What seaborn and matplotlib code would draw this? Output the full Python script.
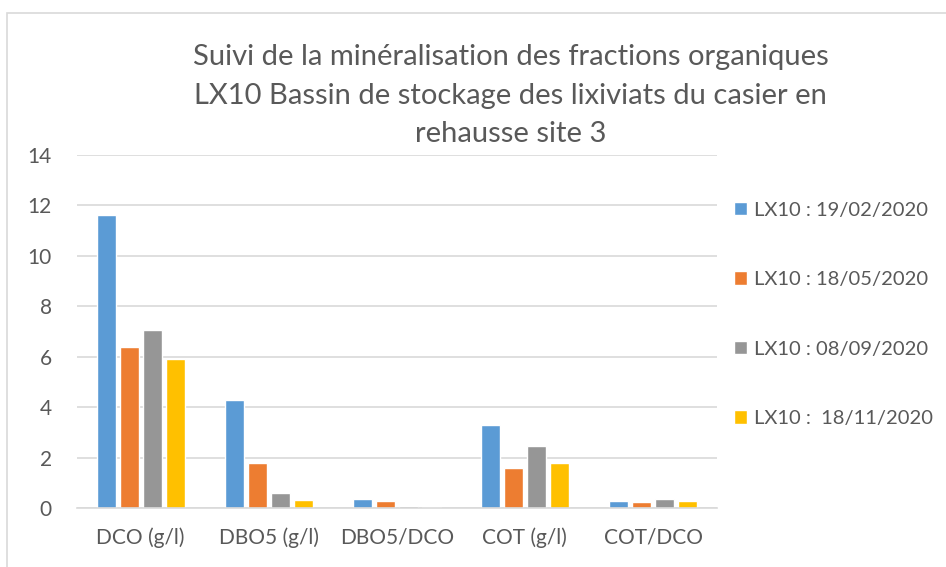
import pandas as pd
import numpy as np
import matplotlib.pyplot as plt
import seaborn as sns
from matplotlib.patches import Rectangle

categories = ["DCO (g/l)", "DBO5 (g/l)", "DBO5/DCO", "COT (g/l)", "COT/DCO"]
series = ["LX10 : 19/02/2020", "LX10 : 18/05/2020", "LX10 : 08/09/2020", "LX10 :  18/11/2020"]
v_1902 = [11.6, 4.3, 0.36, 3.28, 0.28]
v_1805 = [6.4, 1.78, 0.28, 1.58, 0.25]
v_0809 = [7.05, 0.6, 0.08, 2.47, 0.35]
v_1811 = [5.9, 0.33, 0.05, 1.78, 0.28]
colors = ["#5B9BD5", "#ED7D31", "#969696", "#FFC000"]

rows = []
for s, vals in zip(series, [v_1902, v_1805, v_0809, v_1811]):
    for c, v in zip(categories, vals):
        rows.append({"cat": c, "serie": s, "val": v})
df = pd.DataFrame(rows)

sns.set_style("white")
plt.rcParams["font.family"] = ["Lato", "DejaVu Sans"]
txt = "#595959"

fig = plt.figure(figsize=(9.46, 5.67), dpi=100)
ax = fig.add_axes([0.081, 0.104, 0.677, 0.623])

sns.barplot(data=df, x="cat", y="val", hue="serie", order=categories, hue_order=series,
            palette=colors, width=0.72, gap=0.18, saturation=1, ax=ax, legend=True)

ax.set_ylim(0, 14)
ax.set_yticks(range(0, 15, 2))
ax.set_xlim(-0.5, 4.5)
ax.yaxis.grid(True, color="#D9D9D9", linewidth=1.2)
ax.set_axisbelow(True)
for sp in ["top", "right", "left"]:
    ax.spines[sp].set_visible(False)
ax.spines["bottom"].set_color("#D9D9D9")
ax.spines["bottom"].set_linewidth(1.2)
ax.tick_params(axis="both", length=0, labelsize=15, colors=txt)
ax.tick_params(axis="x", pad=14)
ax.tick_params(axis="y", pad=18)
ax.set_xlabel("")
ax.set_ylabel("")

handles, labels = ax.get_legend_handles_labels()
ax.get_legend().remove()
fig.legend(handles, labels, loc="upper left", bbox_to_anchor=(0.757, 0.676), frameon=False,
           fontsize=14.5, labelcolor=txt, handlelength=0.65, handleheight=0.65,
           handletextpad=0.35, labelspacing=2.6)

fig.text(0.54, 0.831, "Suivi de la minéralisation des fractions organiques\n"
         "LX10 Bassin de stockage des lixiviats du casier en\nrehausse site 3",
         ha="center", va="center", fontsize=21, color=txt, linespacing=1.6)

fig.patches.append(Rectangle((0.007, -0.1), 1.2, 1.077, transform=fig.transFigure,
                             fill=False, edgecolor="#D9D9D9", linewidth=1.2))

plt.savefig("out.png", dpi=100)
